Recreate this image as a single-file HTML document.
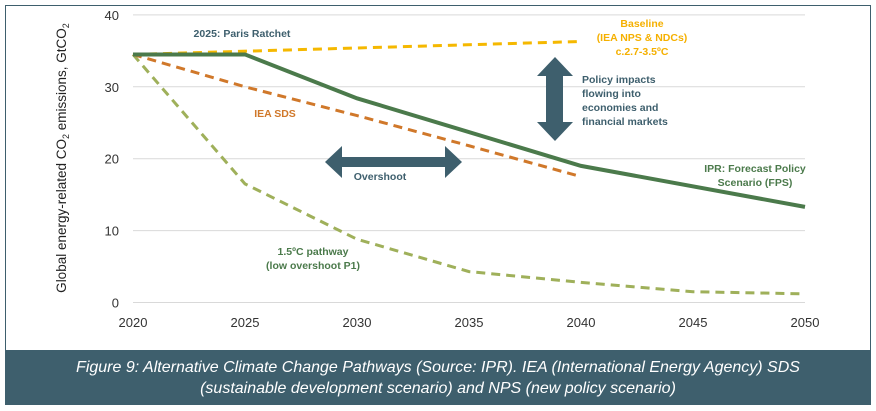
<!DOCTYPE html>
<html><head><meta charset="utf-8"><style>
body{margin:0;background:#fff;}
svg{display:block;font-family:"Liberation Sans",sans-serif;}
</style></head><body>
<svg width="876" height="411" viewBox="0 0 876 411">
<rect x="5.5" y="5.5" width="865" height="399" fill="#fff" stroke="#3e5f6d" stroke-width="1"/>
<g id="grid"></g>
<g id="yt"></g>
<g id="xt"></g>
<text transform="translate(66,158) rotate(-90)" text-anchor="middle" font-size="13.5" fill="#222">Global energy-related CO<tspan font-size="9" dy="3">2</tspan><tspan dy="-3"> emissions, GtCO</tspan><tspan font-size="9" dy="3">2</tspan></text>
<g id="series"></g>
<polygon points="325,162 342,146 342,157 445,157 445,146 462,162 445,178 445,167 342,167 342,178" fill="#3e5f6d"/>
<polygon points="555,57 573,76 563,76 563,122 573,122 555,141 537,122 546,122 546,76 537,76" fill="#3e5f6d"/>
<g font-weight="bold" font-size="10.5">
<text x="242" y="37" text-anchor="middle" fill="#3e5f6d">2025: Paris Ratchet</text>
<text x="642" y="27" text-anchor="middle" fill="#f5b000"><tspan x="642">Baseline</tspan><tspan x="642" dy="14">(IEA NPS &amp; NDCs)</tspan><tspan x="642" dy="14">c.2.7-3.5ºC</tspan></text>
<text x="582" y="83" fill="#3e5f6d"><tspan x="582">Policy impacts</tspan><tspan x="582" dy="14">flowing into</tspan><tspan x="582" dy="14">economies and</tspan><tspan x="582" dy="14">financial markets</tspan></text>
<text x="755" y="172" text-anchor="middle" fill="#4b7a4b"><tspan x="755">IPR: Forecast Policy</tspan><tspan x="755" dy="14">Scenario (FPS)</tspan></text>
<text x="275" y="117" text-anchor="middle" fill="#d0782a">IEA SDS</text>
<text x="380" y="180" text-anchor="middle" fill="#3e5f6d">Overshoot</text>
<text x="313" y="255" text-anchor="middle" fill="#4b7a4b"><tspan x="313">1.5ºC pathway</tspan><tspan x="313" dy="14">(low overshoot P1)</tspan></text>
</g>
<rect x="6" y="350" width="864" height="55" fill="#3e5f6d"/>
<text x="438" y="372" text-anchor="middle" font-size="16" font-style="italic" fill="#fff"><tspan x="438">Figure 9: Alternative Climate Change Pathways (Source: IPR). IEA (International Energy Agency) SDS</tspan><tspan x="438" dy="21">(sustainable development scenario) and NPS (new policy scenario)</tspan></text>
<script>
const years=[2020,2025,2030,2035,2040,2045,2050];
const yTicks=[0,10,20,30,40];
const baselineYears=[2020,2040];
const baselineVals=[34.5,36.3];
const fpsYears=[2020,2025,2030,2040,2050];
const fpsVals=[34.5,34.5,28.4,19.0,13.3];
const sdsYears=[2020,2025,2030,2035,2040];
const sdsVals=[34.5,30.0,26.0,21.8,17.5];
const p15Years=[2020,2025,2030,2035,2040,2045,2050];
const p15Vals=[34.5,16.5,8.8,4.3,2.8,1.5,1.2];
const NS='http://www.w3.org/2000/svg';
const xS=y=>133+(y-2020)*672/30;
const yS=v=>302.5-v*7.19;
const grid=document.getElementById('grid'),yt=document.getElementById('yt'),xt=document.getElementById('xt'),ser=document.getElementById('series');
yTicks.forEach(t=>{
 const l=document.createElementNS(NS,'line');
 l.setAttribute('x1',133);l.setAttribute('x2',805);l.setAttribute('y1',yS(t));l.setAttribute('y2',yS(t));
 l.setAttribute('stroke','#d9d9d9');l.setAttribute('stroke-width','1');
 
 
 grid.appendChild(l);
 const tx=document.createElementNS(NS,'text');
 tx.setAttribute('x',119);tx.setAttribute('y',yS(t)+5);tx.setAttribute('text-anchor','end');tx.setAttribute('font-size','13');tx.setAttribute('fill','#333');
 tx.textContent=t;
 
 
 yt.appendChild(tx);
});
years.forEach(y=>{
 const tx=document.createElementNS(NS,'text');
 tx.setAttribute('x',xS(y));tx.setAttribute('y',327);tx.setAttribute('text-anchor','middle');tx.setAttribute('font-size','13');tx.setAttribute('fill','#333');
 tx.textContent=y;
 
 
 xt.appendChild(tx);
});
function line(xs,vs,color,w,dash,name){
 const p=document.createElementNS(NS,'polyline');
 p.setAttribute('points',xs.map((x,i)=>xS(x)+','+yS(vs[i])).join(' '));
 p.setAttribute('fill','none');p.setAttribute('stroke',color);p.setAttribute('stroke-width',w);
 if(dash)p.setAttribute('stroke-dasharray',dash);
 
 
 ser.appendChild(p);
}
line(p15Years,p15Vals,'#9fb05a',3,'9,6','pathway-15-line');
line(sdsYears,sdsVals,'#d0782a',3,'9,6','iea-sds-line');
line(baselineYears,baselineVals,'#f5b800',3,'9,6','baseline-line');
line(fpsYears,fpsVals,'#4b7a4b',4,null,'fps-line');
</script>
</svg>
</body></html>
